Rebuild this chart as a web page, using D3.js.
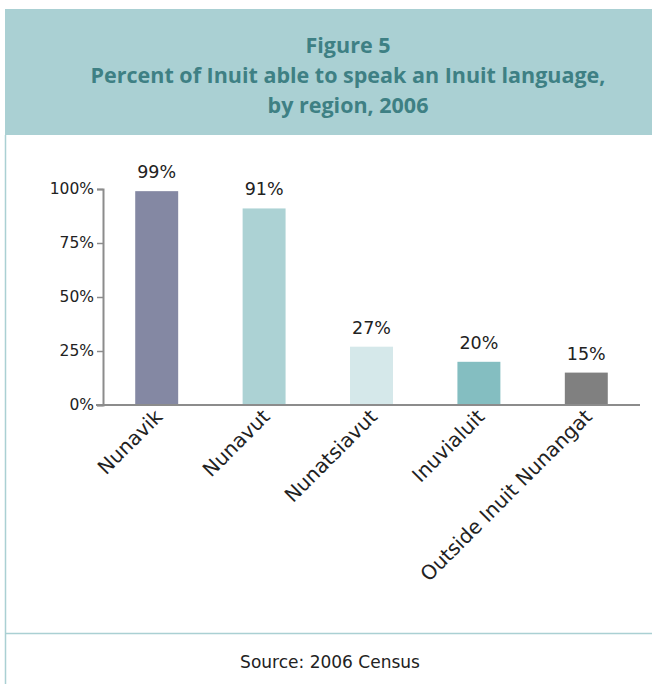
<!DOCTYPE html>
<html>
<head>
<meta charset="utf-8">
<script src="https://cdn.jsdelivr.net/npm/d3@7"></script>
<style>
  html, body { margin: 0; padding: 0; background: #fff; }
  svg { display: block; }
</style>
</head>
<body>
<svg id="chart" width="652" height="684"></svg>
<script>
// Inuit language ability by region, 2006 Census
const regions = ["Nunavik", "Nunavut", "Nunatsiavut", "Inuvialuit", "Outside Inuit Nunangat"];
const percentSpeaking = [99, 91, 27, 20, 15];
const barColors = ["#8488a3", "#acd2d4", "#d5e8ea", "#84bec1", "#808080"];
const yTicks = [0, 25, 50, 75, 100];
const titleLines = ["Figure 5", "Percent of Inuit able to speak an Inuit language,", "by region, 2006"];
const sourceNote = "Source: 2006 Census";

const font = "'Century Gothic', 'DejaVu Sans', sans-serif";
const svg = d3.select("#chart");

// Frame: header band, left rule and footer separator
const frameColor = "#aad0d3";
svg.append("rect").attr("x", 5).attr("y", 9).attr("width", 647).attr("height", 126).attr("fill", frameColor);
svg.append("line").attr("x1", 5.5).attr("x2", 5.5).attr("y1", 135).attr("y2", 684)
  .attr("stroke", frameColor).attr("stroke-width", 1.5);
svg.append("line").attr("x1", 5).attr("x2", 652).attr("y1", 633.5).attr("y2", 633.5)
  .attr("stroke", frameColor).attr("stroke-width", 1.5);

// Title
svg.append("g").selectAll("text").data(titleLines).join("text")
  .attr("x", 348).attr("y", (d, i) => 53 + i * 30)
  .attr("text-anchor", "middle")
  .attr("font-family", "'Open Sans', sans-serif")
  .attr("font-weight", "bold")
  .attr("font-size", 21.5)
  .attr("fill", "#3e8084")
  .text(d => d);

// Scales
const x = d3.scaleBand().domain(regions).range([103, 640]).paddingInner(0.6).paddingOuter(0.3);
const y = d3.scaleLinear().domain([0, 100]).range([405, 189]);

// Y axis
const yAxis = svg.append("g").attr("transform", "translate(103,0)")
  .call(d3.axisLeft(y).tickValues(yTicks).tickFormat(d => d + "%").tickSize(6).tickPadding(3));
yAxis.select(".domain").attr("stroke", "#8c8c8c").attr("stroke-width", 2);
yAxis.selectAll(".tick line").attr("stroke", "#8c8c8c").attr("stroke-width", 1.5);
yAxis.selectAll(".tick text").attr("font-family", font).attr("font-size", 15.5).attr("fill", "#222");

// Bars
svg.append("g").selectAll("rect").data(regions).join("rect")
  .attr("x", d => x(d))
  .attr("width", x.bandwidth())
  .attr("y", (d, i) => y(percentSpeaking[i]))
  .attr("height", (d, i) => y(0) - y(percentSpeaking[i]))
  .attr("fill", (d, i) => barColors[i]);

// Value labels
svg.append("g").selectAll("text").data(regions).join("text")
  .attr("x", d => x(d) + x.bandwidth() / 2)
  .attr("y", (d, i) => y(percentSpeaking[i]) - 13)
  .attr("text-anchor", "middle")
  .attr("font-family", font).attr("font-size", 17.5).attr("fill", "#222")
  .text((d, i) => percentSpeaking[i] + "%");

// X axis baseline
svg.append("line").attr("x1", 96).attr("x2", 640).attr("y1", y(0)).attr("y2", y(0))
  .attr("stroke", "#8c8c8c").attr("stroke-width", 2);

// Rotated category labels
svg.append("g").selectAll("text").data(regions).join("text")
  .attr("transform", d => `translate(${x(d) + x.bandwidth() / 2 + 7},${y(0) + 13}) rotate(-45)`)
  .attr("text-anchor", "end")
  .attr("font-family", font).attr("font-size", 20).attr("fill", "#222")
  .text(d => d);

// Source note
svg.append("text").attr("x", 330).attr("y", 668).attr("text-anchor", "middle")
  .attr("font-family", font).attr("font-size", 17).attr("fill", "#222")
  .text(sourceNote);
</script>
</body>
</html>
